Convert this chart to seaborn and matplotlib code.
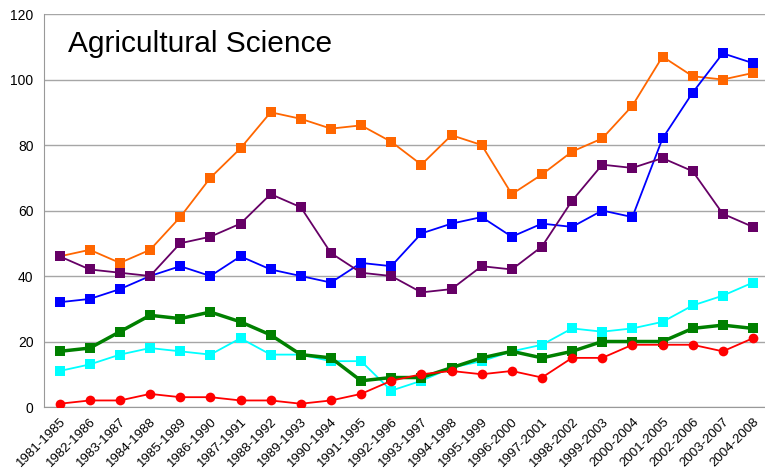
import numpy as np
import pandas as pd
import matplotlib
matplotlib.use('Agg')
import matplotlib.pyplot as plt
import seaborn as sns

periods = ['1981-1985', '1982-1986', '1983-1987', '1984-1988', '1985-1989', '1986-1990',
           '1987-1991', '1988-1992', '1989-1993', '1990-1994', '1991-1995', '1992-1996',
           '1993-1997', '1994-1998', '1995-1999', '1996-2000', '1997-2001', '1998-2002',
           '1999-2003', '2000-2004', '2001-2005', '2002-2006', '2003-2007', '2004-2008']

orange = [46, 48, 44, 48, 58, 70, 79, 90, 88, 85, 86, 81, 74, 83, 80, 65, 71, 78, 82, 92, 107, 101, 100, 102]
blue = [32, 33, 36, 40, 43, 40, 46, 42, 40, 38, 44, 43, 53, 56, 58, 52, 56, 55, 60, 58, 82, 96, 108, 105]
purple = [46, 42, 41, 40, 50, 52, 56, 65, 61, 47, 41, 40, 35, 36, 43, 42, 49, 63, 74, 73, 76, 72, 59, 55]
green = [17, 18, 23, 28, 27, 29, 26, 22, 16, 15, 8, 9, 9, 12, 15, 17, 15, 17, 20, 20, 20, 24, 25, 24]
cyan = [11, 13, 16, 18, 17, 16, 21, 16, 16, 14, 14, 5, 8, 12, 14, 17, 19, 24, 23, 24, 26, 31, 34, 38]
red = [1, 2, 2, 4, 3, 3, 2, 2, 1, 2, 4, 8, 10, 11, 10, 11, 9, 15, 15, 19, 19, 19, 17, 21]

sns.set_style('white')
plt.rcParams['font.family'] = ['Liberation Sans', 'DejaVu Sans']

fig = plt.figure(figsize=(7.65, 4.72), dpi=100)
ax = fig.add_axes([0.0575, 0.1377, 0.9425, 0.8326])

pos = np.arange(len(periods))
series = [
    (orange, '#FF6600', 's', 1.3),
    (blue, '#0000FF', 's', 1.3),
    (purple, '#660066', 's', 1.3),
    (cyan, '#00FFFF', 's', 1.3),
    (green, '#008000', 's', 2.5),
    (red, '#FF0000', 'o', 1.3),
]
for vals, col, mk, lw in series:
    sns.lineplot(x=pos, y=vals, ax=ax, color=col, marker=mk, markersize=7,
                 markeredgewidth=0, linewidth=lw, zorder=3)

ax.set_xlim(-0.52, 23.4)
ax.set_ylim(0, 120)
ax.set_yticks(range(0, 121, 20))
ax.set_xticks(pos)
ax.set_xticklabels(periods, rotation=45, ha='right', rotation_mode='anchor')
ax.tick_params(axis='both', labelsize=10, labelcolor='#000000', length=4, width=1,
               color='#999999')
ax.tick_params(axis='x', labelsize=9.5, pad=2)
ax.grid(axis='y', color='#A6A6A6', linewidth=1)
ax.grid(axis='x', visible=False)
for s in ['top', 'right']:
    ax.spines[s].set_visible(False)
ax.spines['left'].set_color('#999999')
ax.spines['bottom'].set_color('#999999')

ax.text(0.033, 0.903, 'Agricultural Science', transform=ax.transAxes,
        fontsize=21.5, va='baseline', ha='left', color='#000000')

fig.savefig('out.png', dpi=100)
